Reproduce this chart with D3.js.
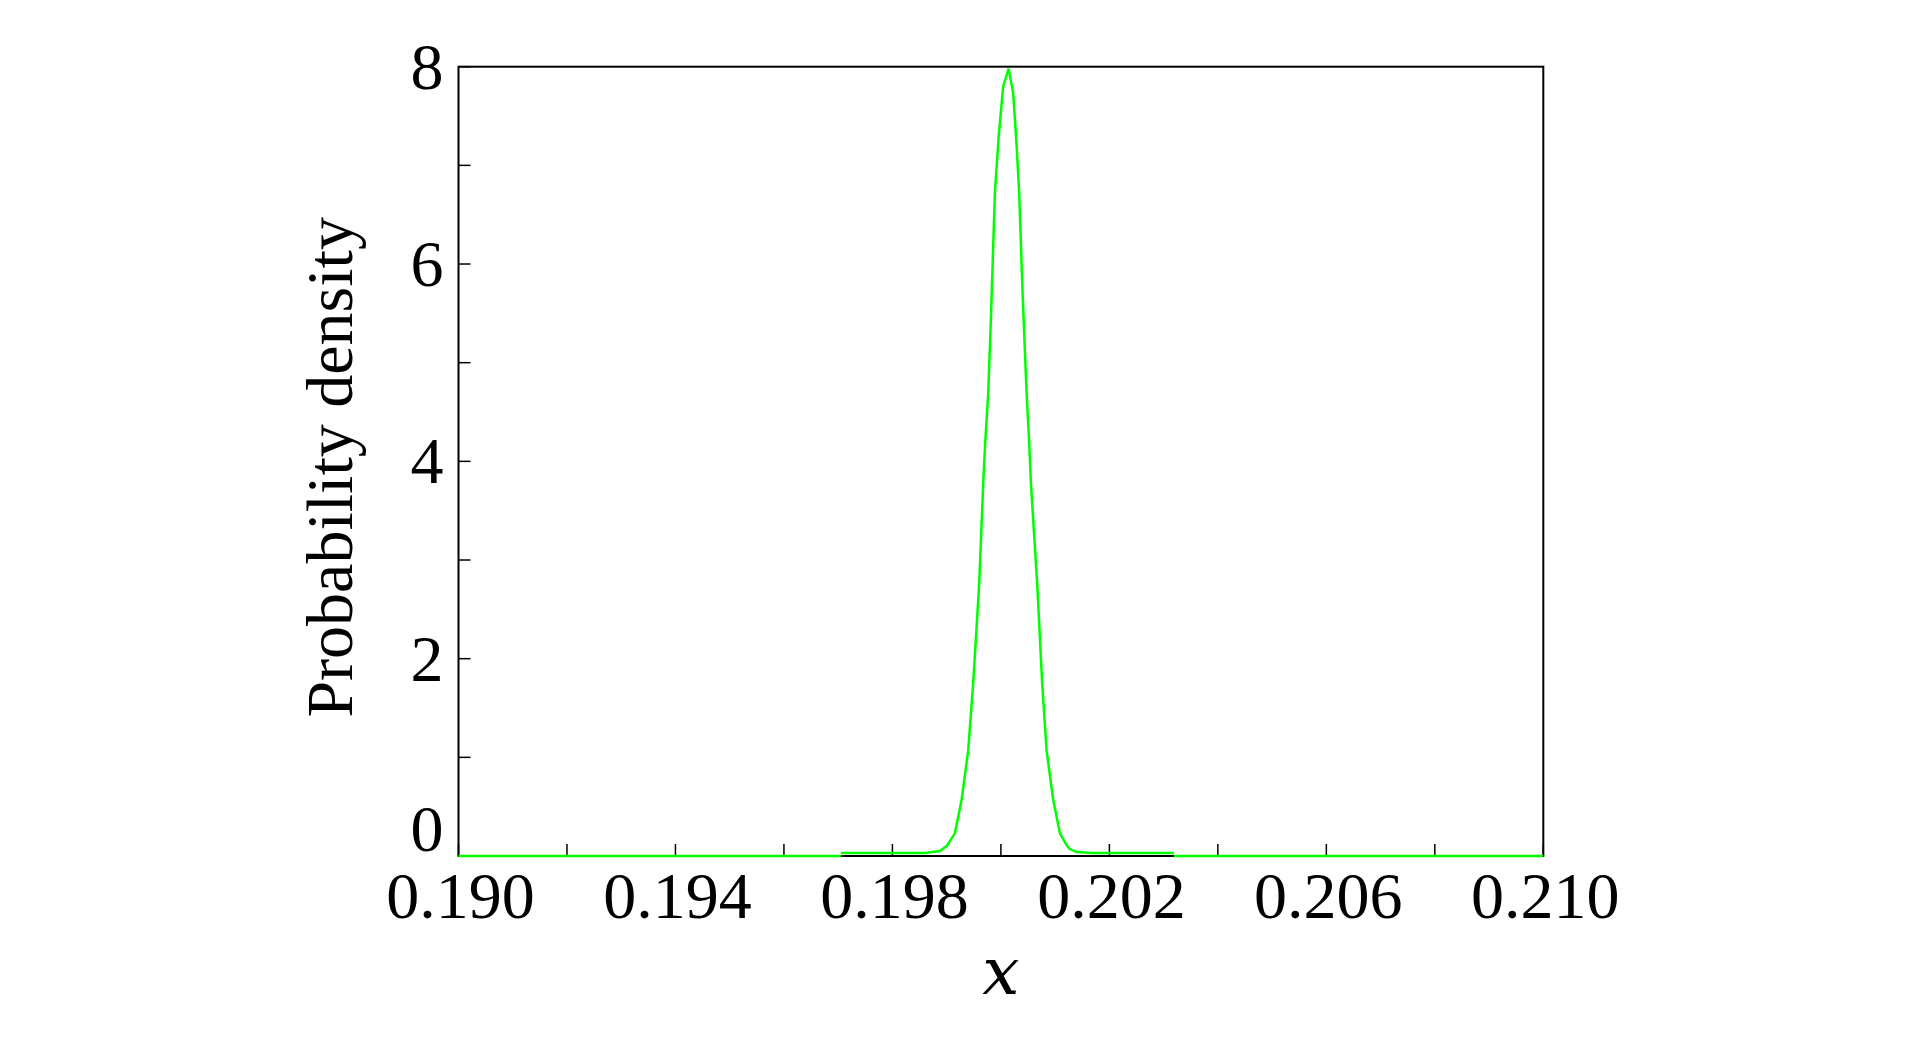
<!DOCTYPE html>
<html>
<head>
<meta charset="utf-8">
<script src="https://cdn.jsdelivr.net/npm/d3@7"></script>
<style>
  body { margin: 0; background: #fff; }
  text { font-family: "Liberation Serif", "DejaVu Serif", serif; fill: #000; }
</style>
</head>
<body>
<div id="vis1"></div>
<script>
const FRAME_WIDTH = 1923;
const FRAME_HEIGHT = 1039;
const MARGINS = {left: 458.5, right: 1923 - 1543.3, top: 66.7, bottom: 1039 - 856};

const VIS_WIDTH = FRAME_WIDTH - MARGINS.left - MARGINS.right;
const VIS_HEIGHT = FRAME_HEIGHT - MARGINS.top - MARGINS.bottom;

// data
const xTicks = [0.190, 0.194, 0.198, 0.202, 0.206, 0.210];
const xMinor = [0.192, 0.196, 0.200, 0.204, 0.208];
const yTicks = [0, 2, 4, 6, 8];
const yMinor = [1, 3, 5, 7];

// flat zero parts outside the support
const tailLeft = [[0.190, 0], [0.19705, 0]];
const tailRight = [[0.20319, 0], [0.210, 0]];

// density curve
const curveX = [0.19705, 0.19860, 0.198875, 0.19900, 0.199152, 0.199276, 0.199397,
                0.199489, 0.199600, 0.199674, 0.199711, 0.199766, 0.199816, 0.199889,
                0.199960, 0.200042, 0.200142, 0.200227, 0.200290, 0.200337, 0.200400,
                0.200474, 0.200522, 0.200553, 0.200669, 0.200761, 0.200842, 0.200964,
                0.201088, 0.201210, 0.201270, 0.201395, 0.20170, 0.20319];
const curveY = [0.03, 0.03, 0.05, 0.10, 0.23, 0.57, 1.07,
                1.75, 2.76, 3.78, 4.19, 4.69, 5.45, 6.72,
                7.30, 7.80, 7.98, 7.73, 7.20, 6.72, 5.70,
                4.69, 4.19, 3.78, 2.76, 1.75, 1.07, 0.57,
                0.23, 0.11, 0.07, 0.04, 0.03, 0.03];

const X_SCALE = d3.scaleLinear().domain([0.190, 0.210]).range([0, VIS_WIDTH]);
const Y_SCALE = d3.scaleLinear().domain([0, 8]).range([VIS_HEIGHT, 0]);

const FRAME = d3.select("#vis1")
                .append("svg")
                  .attr("width", FRAME_WIDTH)
                  .attr("height", FRAME_HEIGHT);

const G = FRAME.append("g")
               .attr("transform", "translate(" + MARGINS.left + "," + MARGINS.top + ")");

// frame box
G.append("rect")
   .attr("x", 0).attr("y", 0)
   .attr("width", VIS_WIDTH).attr("height", VIS_HEIGHT)
   .attr("fill", "none")
   .attr("stroke", "#000")
   .attr("stroke-width", 2);

// inward ticks
const TICK = 12;
G.selectAll(".xt")
   .data(xTicks.concat(xMinor))
   .enter()
   .append("line")
     .attr("x1", d => X_SCALE(d)).attr("x2", d => X_SCALE(d))
     .attr("y1", VIS_HEIGHT).attr("y2", VIS_HEIGHT - TICK)
     .attr("stroke", "#000").attr("stroke-width", 1.5);

G.selectAll(".yt")
   .data(yTicks.concat(yMinor))
   .enter()
   .append("line")
     .attr("x1", 0).attr("x2", TICK)
     .attr("y1", d => Y_SCALE(d)).attr("y2", d => Y_SCALE(d))
     .attr("stroke", "#000").attr("stroke-width", 1.5);

// tick labels
G.selectAll(".xl")
   .data(xTicks)
   .enter()
   .append("text")
     .attr("x", d => X_SCALE(d) + 2)
     .attr("y", VIS_HEIGHT + 62)
     .attr("text-anchor", "middle")
     .attr("font-size", "66px")
     .text(d => d3.format(".3f")(d));

G.selectAll(".yl")
   .data(yTicks)
   .enter()
   .append("text")
     .attr("x", -15)
     .attr("y", d => Y_SCALE(d) + (d === 0 ? -5 : 22))
     .attr("text-anchor", "end")
     .attr("font-size", "66px")
     .text(d => d);

// axis labels
G.append("text")
   .attr("x", VIS_WIDTH / 2)
   .attr("y", VIS_HEIGHT + 138)
   .attr("text-anchor", "middle")
   .attr("font-size", "66px")
   .attr("font-style", "italic")
   .style("font-family", "'DejaVu Serif', serif")
   .text("x");

G.append("text")
   .attr("transform", "translate(" + (352 - MARGINS.left) + "," + (VIS_HEIGHT / 2 + 6) + ") rotate(-90)")
   .attr("text-anchor", "middle")
   .attr("font-size", "66px")
   .text("Probability density");

// lines
const line = d3.line()
               .x(d => X_SCALE(d[0]))
               .y(d => Y_SCALE(d[1]));

const curveData = curveX.map((x, i) => [x, curveY[i]]);

[tailLeft, tailRight].forEach(t => {
  G.append("path")
     .attr("d", line(t))
     .attr("fill", "none")
     .attr("stroke", "#00ff00")
     .attr("stroke-width", 2.5);
});

G.append("path")
   .attr("d", line(curveData))
   .attr("fill", "none")
   .attr("stroke", "#00ff00")
   .attr("stroke-width", 2.5);
</script>
</body>
</html>
